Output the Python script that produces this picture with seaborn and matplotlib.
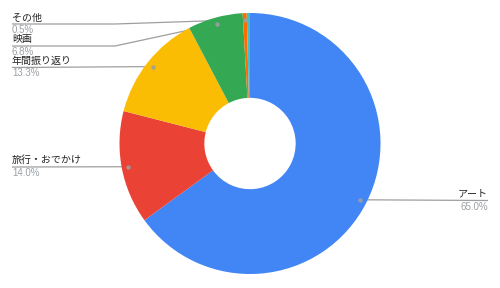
import numpy as np
import matplotlib
matplotlib.use("Agg")
import matplotlib.pyplot as plt
import seaborn as sns

# Share of posts by category
categories = ["アート", "旅行・おでかけ", "年間振り返り", "映画", "その他", ""]
values = [65.0, 14.0, 13.3, 6.8, 0.5, 0.4]
pct_labels = ["65.0%", "14.0%", "13.3%", "6.8%", "0.5%", ""]
colors = ["#4285F4", "#EA4335", "#FBBC04", "#34A853", "#FF6D01", "#46BDC6"]

sns.set_theme(style="white")
plt.rcParams["font.family"] = ["Noto Sans CJK JP", "DejaVu Sans"]

W, H = 500, 288
fig = plt.figure(figsize=(W / 100, H / 100), dpi=100)
ax = fig.add_axes([0, 0, 1, 1])

cx, cy, R = 250.0, 143.5, 130.5
hole = 0.35

# y axis runs downward, so start at -90 and go "counterclockwise" in data
# coordinates, which reads as clockwise from 12 o'clock on screen
wedges, _ = ax.pie(
    values,
    colors=sns.color_palette(colors),
    startangle=-90,
    counterclock=True,
    center=(cx, cy),
    radius=R,
    wedgeprops=dict(width=R * (1 - hole), linewidth=0, zorder=2),
)
ax.set_xlim(0, W)
ax.set_ylim(H, 0)
ax.set_aspect("equal")
ax.axis("off")

# label layout: (side, line y, knee x)
layout = {
    "アート": ("right", 200.5, None),
    "旅行・おでかけ": ("left", 167.0, None),
    "年間振り返り": ("left", 67.5, None),
    "映画": ("left", 46.0, 115),
    "その他": ("left", 24.0, 115),
}

line_col = "#9E9E9E"
name_col = "#222222"
pct_col = "#9AA0A6"

total = sum(values)
cum = 0.0
for name, val, pct in zip(categories, values, pct_labels):
    mid = (cum + val / 2) / total * 2 * np.pi
    cum += val
    if not name:
        continue
    dx = cx + 0.95 * R * np.sin(mid)
    dy = cy - 0.95 * R * np.cos(mid)
    side, ly, knee = layout[name]
    if side == "right":
        xs, ys = [dx, 488], [dy, ly]
        tx, ha = 488, "right"
    else:
        if knee is None:
            xs, ys = [12, dx], [ly, dy]
        else:
            xs, ys = [12, knee, dx], [ly, ly, dy]
        tx, ha = 12, "left"
    ax.plot(xs, ys, color=line_col, lw=0.9, zorder=1, solid_capstyle="butt")
    ax.plot([dx], [dy], "o", ms=3.2, color=line_col, mec="none", zorder=3, alpha=0.9)
    ax.text(tx, ly - 6.6, name, ha=ha, va="center", fontsize=7.2, color=name_col)
    ax.text(tx, ly + 6.0, pct, ha=ha, va="center", fontsize=7.0, color=pct_col,
            family=["Liberation Sans", "DejaVu Sans"])

fig.savefig("out.png", dpi=100, facecolor="white")
